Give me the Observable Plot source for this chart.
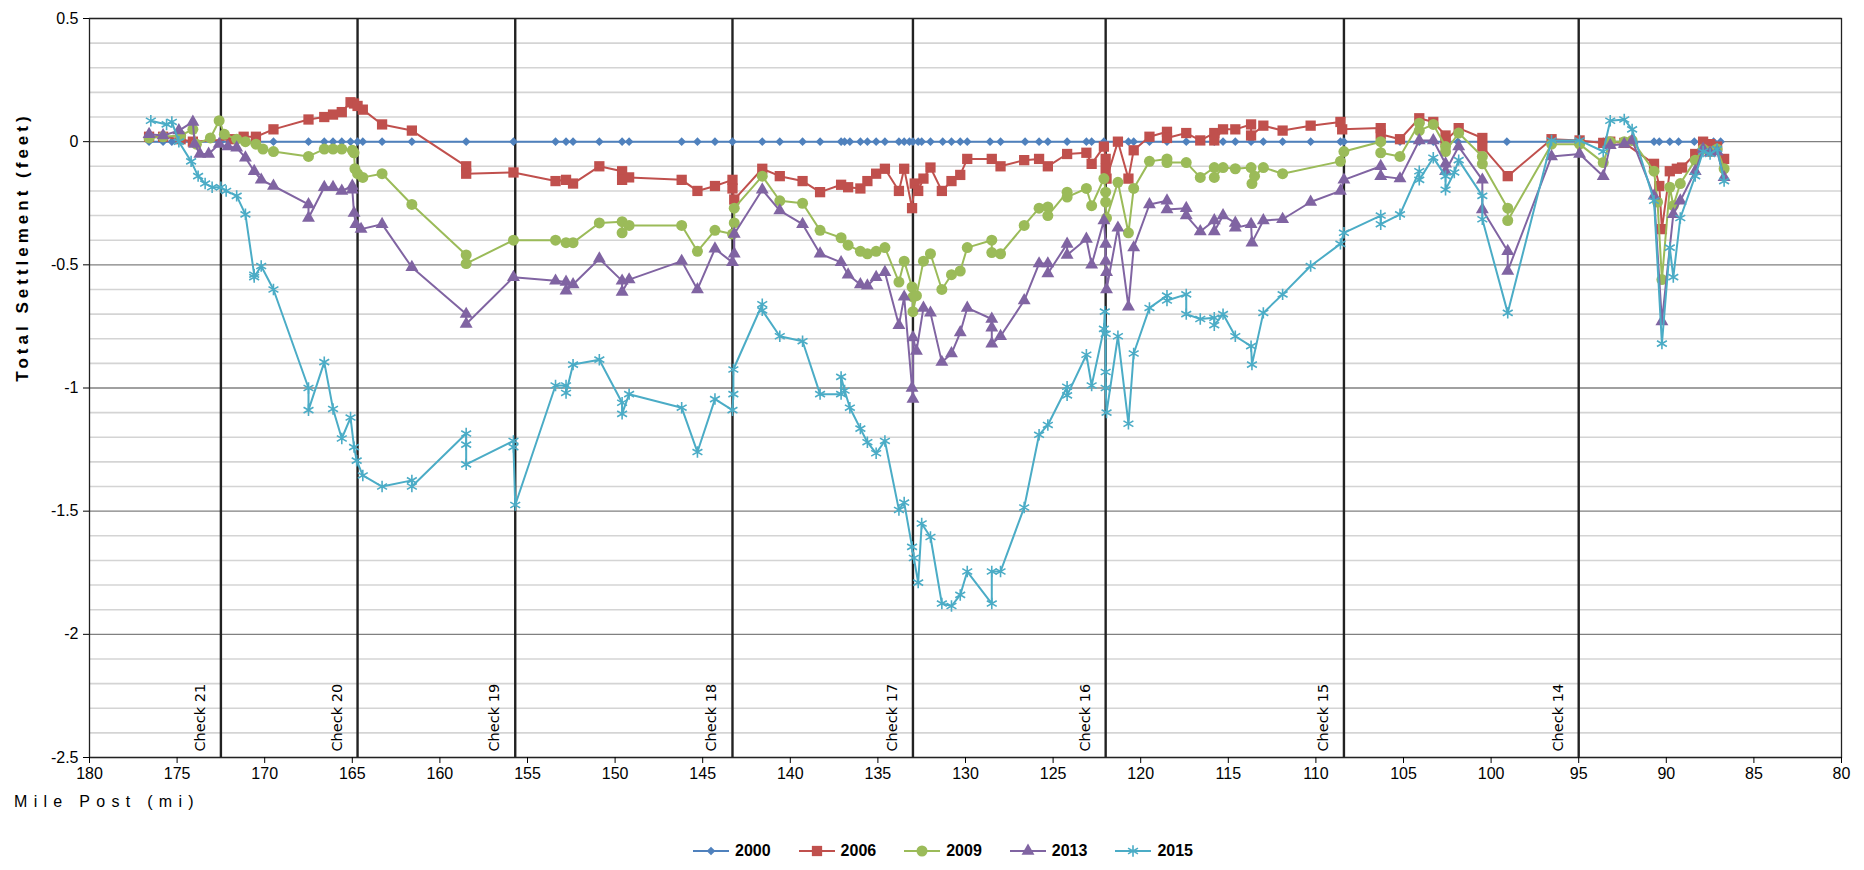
<!DOCTYPE html>
<html><head><meta charset="utf-8">
<script src="https://cdn.jsdelivr.net/npm/d3@7"></script>
<script src="https://cdn.jsdelivr.net/npm/@observablehq/plot@0.6"></script>
<style>
html,body{margin:0;padding:0;background:#fff;}
#wrap{position:relative;width:1864px;height:870px;overflow:hidden;font-family:"Liberation Sans",Arial,sans-serif;color:#000;}
#ytitle{position:absolute;left:23px;top:247px;transform:translate(-50%,-50%) rotate(-90deg);white-space:nowrap;font-weight:bold;font-size:17px;font-family:"Liberation Sans Narrow","Liberation Sans",Arial,sans-serif;letter-spacing:4px;}
#xtitle{position:absolute;left:14px;top:793px;font-size:16px;letter-spacing:6.3px;white-space:nowrap;}
#legend{position:absolute;top:842px;left:0;width:1884px;display:flex;justify-content:center;gap:26px;font-weight:bold;font-size:16px;font-family:"Liberation Sans Narrow","Liberation Sans",Arial,sans-serif;}
#legend .it{display:flex;align-items:center;gap:4px;}
</style></head><body><div id="wrap"></div><script>
const years = ["2000", "2006", "2009", "2013", "2015"];
const colors = ["#4F81BD", "#C0504D", "#9BBB59", "#8064A2", "#4BACC6"];
const symbols = ["diamond2", "square", "circle", "triangle", "asterisk"];
const checkNames = ["Check 21", "Check 20", "Check 19", "Check 18", "Check 17", "Check 16", "Check 15", "Check 14"];
const checkMiles = [172.5, 164.7, 155.7, 143.3, 133.0, 122.0, 108.4, 95.0];
const xTicks = [180, 175, 170, 165, 160, 155, 150, 145, 140, 135, 130, 125, 120, 115, 110, 105, 100, 95, 90, 85, 80];
const yTicks = [0.5, 0, -0.5, -1, -1.5, -2, -2.5];

const s2000 = [[176.6,0],[175.8,0],[175.3,0],[174.1,0],[172.5,0],[171.2,0],[169.5,0],[167.5,0],[166.6,0],[166.1,0],[165.6,0],[165.1,0],[164.7,0],[164.4,0],[163.3,0],[161.6,0],[158.5,0],[155.8,0],[153.4,0],[152.8,0],[152.4,0],[150.9,0],[149.6,0],[149.2,0],[146.2,0],[145.3,0],[144.3,0],[143.3,0],[141.6,0],[140.6,0],[139.3,0],[138.3,0],[137.1,0],[136.9,0],[136.6,0],[136.0,0],[135.6,0],[135.1,0],[134.6,0],[133.8,0],[133.5,0],[133.2,0],[133.0,0],[132.7,0],[132.5,0],[132.0,0],[131.3,0],[130.8,0],[130.3,0],[129.9,0],[128.6,0],[128.0,0],[126.6,0],[125.8,0],[125.3,0],[124.2,0],[123.1,0],[122.8,0],[122.1,0],[121.3,0],[120.7,0],[120.4,0],[119.5,0],[118.5,0],[117.4,0],[115.8,0],[115.3,0],[114.6,0],[113.7,0],[113.0,0],[111.9,0],[110.3,0],[108.6,0],[108.4,0],[106.3,0],[105.2,0],[104.1,0],[103.3,0],[102.6,0],[101.9,0],[100.5,0],[99.1,0],[96.6,0],[95.0,0],[93.6,0],[93.2,0],[92.4,0],[92.0,0],[90.7,0],[90.4,0],[89.8,0],[89.3,0],[88.4,0],[87.9,0],[87.3,0],[86.9,0]];

const s2006 = [[176.6,0.02],[175.8,0.02],[174.8,0.01],[174.1,0.0],[171.9,0.01],[171.2,0.02],[170.5,0.02],[169.5,0.05],[167.5,0.09],[166.6,0.10],[166.1,0.11],[165.6,0.12],[165.1,0.16],[164.9,0.155],[164.7,0.145],[164.4,0.13],[163.3,0.07],[161.6,0.045],[158.5,-0.10],[158.5,-0.13],[155.8,-0.125],[153.4,-0.16],[152.8,-0.155],[152.4,-0.17],[150.9,-0.10],[149.6,-0.12],[149.6,-0.155],[149.2,-0.145],[146.2,-0.155],[145.3,-0.20],[144.3,-0.18],[143.3,-0.155],[143.3,-0.19],[143.2,-0.235],[141.6,-0.11],[140.6,-0.14],[139.3,-0.16],[138.3,-0.205],[137.1,-0.175],[136.7,-0.185],[136.0,-0.19],[135.6,-0.16],[135.1,-0.13],[134.6,-0.11],[133.8,-0.20],[133.5,-0.11],[133.05,-0.27],[132.9,-0.17],[132.7,-0.20],[132.4,-0.15],[132.0,-0.105],[131.35,-0.20],[130.8,-0.16],[130.3,-0.135],[129.9,-0.07],[128.5,-0.07],[128.0,-0.10],[126.65,-0.075],[125.8,-0.07],[125.3,-0.10],[124.2,-0.05],[123.1,-0.045],[122.8,-0.09],[122.1,-0.02],[122.0,-0.07],[122.0,-0.11],[121.95,-0.15],[121.3,0.0],[120.7,-0.15],[120.4,-0.035],[119.5,0.02],[118.5,0.04],[118.5,0.015],[117.4,0.035],[116.6,0.005],[115.8,0.035],[115.8,0.005],[115.3,0.05],[114.6,0.05],[113.7,0.07],[113.7,0.025],[113.0,0.065],[111.9,0.045],[110.3,0.065],[108.6,0.08],[108.5,0.05],[106.3,0.055],[106.3,0.03],[105.2,0.01],[104.1,0.095],[103.3,0.08],[102.6,0.025],[102.6,0.005],[101.85,0.055],[100.5,0.015],[100.5,-0.02],[99.05,-0.14],[96.55,0.01],[94.95,0.005],[93.6,-0.005],[93.2,0.0],[92.4,-0.005],[90.7,-0.09],[90.4,-0.18],[90.25,-0.355],[89.8,-0.12],[89.4,-0.11],[89.1,-0.105],[88.35,-0.05],[87.9,0.0],[87.5,-0.01],[87.1,-0.02],[86.7,-0.07]];

const s2009 = [[176.6,0.015],[175.8,0.02],[174.8,0.025],[174.1,0.05],[173.9,-0.01],[173.1,0.015],[172.6,0.085],[172.3,0.03],[171.6,0.01],[171.1,0.0],[170.5,-0.01],[170.1,-0.03],[169.5,-0.04],[167.5,-0.06],[166.6,-0.03],[166.1,-0.03],[165.6,-0.03],[165.0,-0.035],[164.9,-0.045],[164.85,-0.11],[164.7,-0.13],[164.4,-0.145],[163.3,-0.13],[161.6,-0.255],[158.5,-0.46],[158.5,-0.495],[155.8,-0.40],[153.4,-0.40],[152.8,-0.41],[152.4,-0.41],[150.9,-0.33],[149.6,-0.325],[149.6,-0.37],[149.2,-0.34],[146.2,-0.34],[145.3,-0.445],[144.3,-0.36],[143.3,-0.375],[143.2,-0.33],[143.2,-0.27],[141.6,-0.14],[140.6,-0.24],[139.3,-0.25],[138.3,-0.36],[137.1,-0.39],[136.7,-0.42],[136.0,-0.445],[135.6,-0.455],[135.1,-0.445],[134.6,-0.43],[133.8,-0.57],[133.5,-0.485],[133.05,-0.59],[133.0,-0.63],[133.0,-0.69],[132.8,-0.625],[132.4,-0.485],[132.0,-0.455],[131.35,-0.60],[130.8,-0.54],[130.3,-0.525],[129.9,-0.43],[128.5,-0.40],[128.5,-0.45],[128.0,-0.455],[126.65,-0.34],[125.8,-0.27],[125.3,-0.265],[125.3,-0.30],[124.2,-0.205],[124.2,-0.225],[123.1,-0.19],[122.8,-0.26],[122.1,-0.15],[122.0,-0.205],[122.0,-0.245],[121.95,-0.31],[121.3,-0.165],[120.7,-0.37],[120.4,-0.19],[119.5,-0.08],[118.5,-0.07],[118.5,-0.085],[117.4,-0.085],[116.6,-0.145],[115.8,-0.105],[115.8,-0.145],[115.3,-0.105],[114.6,-0.11],[113.7,-0.105],[113.65,-0.17],[113.5,-0.14],[113.0,-0.105],[111.9,-0.13],[108.6,-0.08],[108.4,-0.04],[106.3,0.0],[106.3,-0.045],[105.2,-0.06],[104.1,0.075],[104.1,0.045],[103.3,0.07],[102.6,-0.02],[102.6,-0.04],[101.85,0.035],[100.5,-0.06],[100.5,-0.09],[99.05,-0.27],[99.05,-0.32],[96.55,-0.01],[94.95,-0.01],[93.6,-0.085],[93.2,0.0],[92.4,0.0],[91.95,0.005],[90.7,-0.12],[90.5,-0.245],[90.25,-0.56],[89.8,-0.185],[89.6,-0.26],[89.2,-0.17],[88.35,-0.075],[87.9,-0.03],[87.5,-0.04],[87.1,-0.03],[86.7,-0.11]];

const s2013 = [[176.6,0.03],[175.8,0.025],[174.9,0.045],[174.1,0.08],[174.0,-0.01],[173.7,-0.05],[173.2,-0.05],[172.6,-0.01],[172.1,-0.02],[171.6,-0.025],[171.1,-0.065],[170.6,-0.12],[170.2,-0.155],[169.5,-0.18],[167.5,-0.255],[167.5,-0.31],[166.6,-0.185],[166.1,-0.185],[165.6,-0.20],[165.0,-0.18],[165.0,-0.195],[164.9,-0.29],[164.8,-0.335],[164.5,-0.355],[163.3,-0.335],[161.6,-0.51],[158.5,-0.70],[158.5,-0.74],[155.8,-0.55],[153.4,-0.565],[152.8,-0.57],[152.8,-0.605],[152.4,-0.58],[150.9,-0.475],[149.6,-0.565],[149.6,-0.61],[149.2,-0.56],[146.2,-0.485],[145.3,-0.60],[144.3,-0.435],[143.3,-0.49],[143.2,-0.455],[143.2,-0.375],[141.6,-0.195],[140.6,-0.28],[139.3,-0.335],[138.3,-0.455],[137.1,-0.49],[136.7,-0.54],[136.0,-0.58],[135.6,-0.585],[135.1,-0.55],[134.6,-0.53],[133.8,-0.745],[133.5,-0.63],[133.05,-1.0],[133.0,-1.045],[133.0,-0.795],[132.8,-0.85],[132.4,-0.675],[132.0,-0.695],[131.35,-0.895],[130.8,-0.86],[130.3,-0.775],[129.9,-0.675],[128.5,-0.72],[128.5,-0.755],[128.5,-0.82],[128.0,-0.79],[126.65,-0.645],[125.8,-0.495],[125.3,-0.495],[125.3,-0.535],[124.2,-0.415],[124.2,-0.46],[123.1,-0.395],[122.8,-0.50],[122.1,-0.32],[122.0,-0.415],[122.0,-0.485],[121.95,-0.53],[121.95,-0.60],[121.3,-0.35],[120.7,-0.67],[120.4,-0.43],[119.5,-0.255],[118.5,-0.24],[118.5,-0.275],[117.4,-0.27],[117.4,-0.30],[116.6,-0.365],[115.8,-0.32],[115.8,-0.365],[115.3,-0.30],[114.6,-0.33],[114.6,-0.35],[113.7,-0.335],[113.65,-0.41],[113.0,-0.32],[111.9,-0.315],[110.3,-0.245],[108.6,-0.20],[108.4,-0.155],[106.3,-0.10],[106.3,-0.14],[105.2,-0.15],[104.1,0.005],[103.3,0.005],[102.6,-0.09],[102.6,-0.12],[101.85,-0.02],[100.5,-0.155],[100.5,-0.275],[99.05,-0.445],[99.05,-0.525],[96.55,-0.06],[94.95,-0.05],[93.6,-0.14],[93.2,-0.015],[92.4,-0.01],[91.95,0.005],[90.7,-0.22],[90.25,-0.73],[89.6,-0.295],[89.2,-0.24],[88.35,-0.12],[87.9,-0.03],[87.5,-0.045],[87.1,-0.04],[86.7,-0.145]];

const s2015 = [[176.5,0.085],[175.6,0.07],[175.3,0.08],[174.9,0.0],[174.2,-0.08],[173.8,-0.14],[173.4,-0.17],[173.0,-0.185],[172.5,-0.185],[172.2,-0.20],[171.6,-0.22],[171.1,-0.295],[170.6,-0.54],[170.6,-0.55],[170.2,-0.505],[169.5,-0.60],[167.5,-1.0],[167.5,-1.09],[166.6,-0.895],[166.1,-1.085],[165.6,-1.205],[165.1,-1.12],[164.9,-1.24],[164.75,-1.295],[164.4,-1.355],[163.3,-1.40],[161.6,-1.375],[161.6,-1.40],[158.5,-1.185],[158.5,-1.23],[158.5,-1.31],[155.8,-1.215],[155.8,-1.24],[155.7,-1.475],[153.4,-0.99],[152.8,-0.99],[152.8,-1.02],[152.4,-0.905],[150.9,-0.885],[149.6,-1.06],[149.6,-1.105],[149.2,-1.025],[146.2,-1.08],[145.3,-1.26],[144.3,-1.045],[143.3,-1.09],[143.25,-1.025],[143.25,-0.925],[141.6,-0.66],[141.6,-0.685],[140.6,-0.79],[139.3,-0.81],[138.3,-1.025],[137.1,-1.025],[137.1,-0.955],[136.9,-1.01],[136.6,-1.08],[136.0,-1.165],[135.6,-1.22],[135.1,-1.265],[134.6,-1.215],[133.8,-1.495],[133.5,-1.465],[133.05,-1.645],[132.95,-1.69],[132.7,-1.79],[132.5,-1.55],[132.0,-1.605],[131.35,-1.875],[130.8,-1.885],[130.3,-1.84],[129.9,-1.745],[128.5,-1.875],[128.5,-1.745],[128.0,-1.745],[126.65,-1.485],[125.8,-1.19],[125.3,-1.15],[124.2,-0.995],[124.2,-1.03],[123.1,-0.865],[122.8,-0.99],[122.1,-0.76],[122.05,-0.69],[122.0,-0.78],[122.0,-0.935],[122.0,-1.0],[121.95,-1.10],[121.3,-0.79],[120.7,-1.145],[120.4,-0.86],[119.5,-0.675],[118.5,-0.625],[118.5,-0.645],[117.4,-0.62],[117.4,-0.70],[116.6,-0.72],[115.8,-0.715],[115.8,-0.745],[115.3,-0.70],[114.6,-0.79],[113.7,-0.83],[113.65,-0.905],[113.0,-0.695],[111.9,-0.62],[110.3,-0.505],[108.6,-0.415],[108.4,-0.37],[106.3,-0.30],[106.3,-0.335],[105.2,-0.295],[104.1,-0.12],[104.1,-0.155],[103.3,-0.065],[102.6,-0.14],[102.6,-0.195],[102.1,-0.125],[101.85,-0.075],[100.5,-0.22],[100.5,-0.315],[99.05,-0.695],[96.55,0.005],[94.95,0.005],[93.6,-0.04],[93.2,0.085],[92.4,0.09],[91.95,0.05],[90.7,-0.24],[90.25,-0.82],[89.8,-0.43],[89.6,-0.55],[89.2,-0.31],[88.35,-0.14],[87.9,-0.04],[87.5,-0.05],[87.1,-0.03],[86.7,-0.16]];

const seriesList = [s2000, s2006, s2009, s2013, s2015];
const markerR = [3.9, 5.8, 5.5, 4.8, 5.4];

const minorTicks = d3.range(-24, 5).map(k => k / 10).filter(v => Math.abs(v * 2 - Math.round(v * 2)) > 1e-6);
const checks = checkNames.map((name, i) => ({name, mile: checkMiles[i]}));

const marks = [
  Plot.ruleY(minorTicks, {stroke: "#d4d4d4", strokeWidth: 1.6}),
  Plot.ruleY(yTicks, {stroke: "#808080", strokeWidth: 1.3}),
  Plot.ruleX(checks, {x: "mile", stroke: "#222", strokeWidth: 2.4}),
  Plot.text(checks, {x: "mile", text: "name", rotate: -90, frameAnchor: "bottom", textAnchor: "start", dx: -16, dy: -6, fontSize: 14.5, fontFamily: "DejaVu Sans, Verdana, sans-serif", fill: "#000"})
];
seriesList.forEach((s, i) => {
  const rows = s.map(([mile, value]) => ({mile, value}));
  marks.push(Plot.line(rows, {x: "mile", y: "value", stroke: colors[i], strokeWidth: 2}));
  const isStroke = symbols[i] === "asterisk";
  marks.push(Plot.dot(rows, {x: "mile", y: "value", symbol: symbols[i], r: markerR[i],
    fill: isStroke ? "none" : colors[i], stroke: isStroke ? colors[i] : "none", strokeWidth: isStroke ? 1.6 : 0}));
});
marks.push(Plot.frame({stroke: "#222", strokeWidth: 1.3}));
marks.push(Plot.axisX(xTicks, {tickSize: 6, tickPadding: 4, tickFormat: d => String(d), label: null, fontSize: 16}));
marks.push(Plot.axisY(yTicks, {tickSize: 6, tickPadding: 5, tickFormat: d => String(d), label: null, fontSize: 16}));

const chart = Plot.plot({
  width: 1864, height: 790,
  marginLeft: 89, marginRight: 23, marginTop: 18, marginBottom: 33,
  x: {domain: [180, 80]},
  y: {domain: [-2.5, 0.5]},
  style: {fontFamily: "Liberation Sans, Arial, sans-serif", fontSize: "16px", color: "#000", background: "#fff"},
  marks
});

const wrap = document.getElementById("wrap");
wrap.appendChild(chart);

const yt = document.createElement("div"); yt.id = "ytitle"; yt.textContent = "Total Settlement (feet)"; wrap.appendChild(yt);
const xt = document.createElement("div"); xt.id = "xtitle"; xt.textContent = "Mile Post (mi)"; wrap.appendChild(xt);

const leg = document.createElement("div"); leg.id = "legend";
years.forEach((y, i) => {
  const it = document.createElement("div"); it.className = "it";
  const sv = d3.create("svg").attr("width", 40).attr("height", 16);
  sv.append("line").attr("x1", 2).attr("x2", 38).attr("y1", 8).attr("y2", 8).attr("stroke", colors[i]).attr("stroke-width", 2);
  const symMap = {diamond2: d3.symbolDiamond2, square: d3.symbolSquare, circle: d3.symbolCircle, triangle: d3.symbolTriangle, asterisk: d3.symbolAsterisk};
  const isStroke = symbols[i] === "asterisk";
  sv.append("path").attr("transform", "translate(20,8)")
    .attr("d", d3.symbol(symMap[symbols[i]], Math.PI * markerR[i] * markerR[i])())
    .attr("fill", isStroke ? "none" : colors[i]).attr("stroke", isStroke ? colors[i] : "none").attr("stroke-width", 1.6);
  it.appendChild(sv.node());
  const t = document.createElement("span"); t.textContent = y; it.appendChild(t);
  leg.appendChild(it);
});
wrap.appendChild(leg);
</script></body></html>
